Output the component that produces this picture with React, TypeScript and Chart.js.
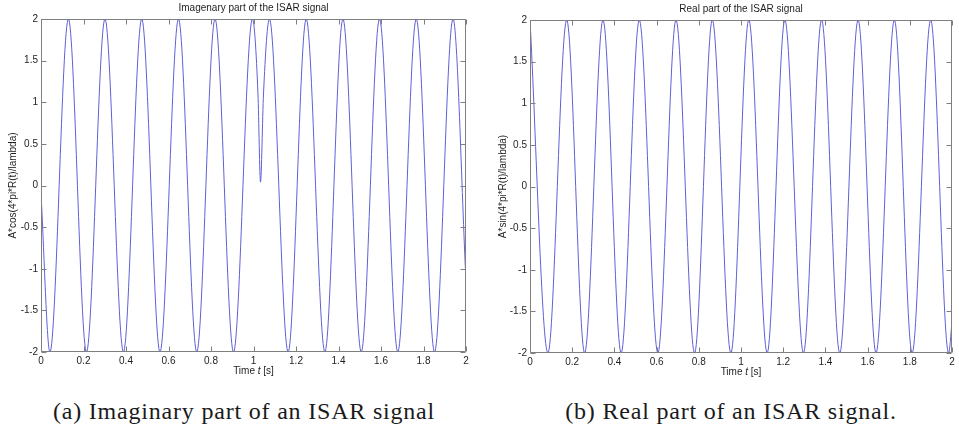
import React, { useEffect, useRef } from "react";
import { Chart, registerables } from "chart.js";

Chart.register(...registerables);

// Imaginary part: times (s) of the turning points of the trace and the value there
const imagTimes = [
  0, 0.042, 0.129, 0.214, 0.301, 0.388, 0.474, 0.56, 0.647, 0.733, 0.819, 0.906, 0.995,
  1.021, 1.033, 1.047, 1.075, 1.163, 1.248, 1.336, 1.421, 1.507, 1.593, 1.679, 1.766,
  1.852, 1.939, 2.0,
];
const imagValues = [
  -0.1, -2, 2, -2, 2, -2, 2, -2, 2, -2, 2, -2, 2,
  1.1, 0.04, 1.1, 2, -2, 2, -2, 2, -2, 2, -2, 2,
  -2, 2, -1.15,
];

// Real part: times (s) of the turning points of the trace and the value there
const realTimes = [
  0, 0.085, 0.174, 0.259, 0.346, 0.432, 0.518, 0.606, 0.692, 0.78, 0.864, 0.952, 1.037,
  1.124, 1.208, 1.296, 1.382, 1.468, 1.555, 1.64, 1.727, 1.811, 1.899, 1.984, 2.0,
];
const realValues = [
  2, -2, 2, -2, 2, -2, 2, -2, 2, -2, 2, -2, 2,
  -2, 2, -2, 2, -2, 2, -2, 2, -2, 2, -2, -1.63,
];

const timeRange = [0, 2];
const timeStep = 0.2;
const ampRange = [-2, 2];
const ampStep = 0.5;

const LINE = "rgb(95,95,215)";
const FRAME = "#7f7f7f";
const TEXT = "#1e1e1e";
const SANS = "'Liberation Sans', Arial, Helvetica, sans-serif";

// plain tick text: 1 instead of 1.0, 0.2 instead of 0.20
const plainTick = (v: number | string) => String(Math.round(Number(v) * 10) / 10);

type Layout = {
  w: number;
  h: number;
  axisW: number;
  axisH: number;
  top: number;
  right: number;
  ylabelPad: number;
};

const framePlugin = {
  id: "matlabFrame",
  afterDatasetsDraw(chart: any) {
    const { ctx, chartArea: a, scales } = chart;
    const L = Math.round(a.left) + 0.5;
    const R = Math.round(a.right) - 0.5;
    const T = Math.round(a.top) + 0.5;
    const B = Math.round(a.bottom) - 0.5;
    ctx.save();
    ctx.strokeStyle = FRAME;
    ctx.lineWidth = 1;
    ctx.beginPath();
    ctx.rect(L, T, R - L, B - T);
    const len = 5;
    for (const t of scales.x.ticks) {
      const x = Math.round(scales.x.getPixelForValue(t.value)) + 0.5;
      ctx.moveTo(x, B);
      ctx.lineTo(x, B - len);
      ctx.moveTo(x, T);
      ctx.lineTo(x, T + len);
    }
    for (const t of scales.y.ticks) {
      const y = Math.round(scales.y.getPixelForValue(t.value)) + 0.5;
      ctx.moveTo(L, y);
      ctx.lineTo(L + len, y);
      ctx.moveTo(R, y);
      ctx.lineTo(R - len, y);
    }
    ctx.stroke();
    ctx.restore();
  },
  afterDraw(chart: any, _args: any, opts: any) {
    const { ctx, chartArea: a } = chart;
    const cx = (a.left + a.right) / 2;
    ctx.save();
    ctx.fillStyle = TEXT;
    ctx.textBaseline = "middle";
    // plot title
    ctx.font = `10px ${SANS}`;
    ctx.textAlign = "center";
    ctx.fillText(opts.title, cx, a.top - 10.5);
    // x label with italic t
    const parts: [string, string][] = [
      ["Time ", `10px ${SANS}`],
      ["t", `italic 10px ${SANS}`],
      [" [s]", `10px ${SANS}`],
    ];
    let total = 0;
    for (const [s, f] of parts) {
      ctx.font = f;
      total += ctx.measureText(s).width;
    }
    let x = cx - total / 2;
    ctx.textAlign = "left";
    const y = a.bottom + 19;
    for (const [s, f] of parts) {
      ctx.font = f;
      ctx.fillText(s, x, y);
      x += ctx.measureText(s).width;
    }
    ctx.restore();
  },
};

function SignalPlot(props: {
  title: string;
  ylabel: string;
  times: number[];
  values: number[];
  layout: Layout;
  left: number;
}) {
  const ref = useRef<HTMLCanvasElement | null>(null);
  const { title, ylabel, times, values, layout, left } = props;

  useEffect(() => {
    if (!ref.current) return;
    const tickFont = { family: SANS, size: 10 };
    const chart = new Chart(ref.current, {
      type: "line",
      data: {
        datasets: [
          {
            data: times.map((t, i) => ({ x: t, y: values[i] })),
            borderColor: LINE,
            borderWidth: 1,
            pointRadius: 0,
            fill: false,
            cubicInterpolationMode: "monotone",
          },
        ],
      },
      options: {
        animation: false,
        responsive: false,
        devicePixelRatio: 1,
        events: [],
        layout: { padding: { left: 0, right: layout.right, top: layout.top, bottom: 0 } },
        plugins: {
          legend: { display: false },
          tooltip: { enabled: false },
          title: { display: false },
          matlabFrame: { title },
        } as any,
        scales: {
          x: {
            type: "linear",
            min: timeRange[0],
            max: timeRange[1],
            ticks: {
              stepSize: timeStep,
              padding: 3,
              font: tickFont,
              color: TEXT,
              maxRotation: 0,
              autoSkip: false,
              callback: plainTick,
            },
            grid: { display: false, drawTicks: false },
            border: { display: false },
            afterFit: (s: any) => {
              s.height = layout.axisH;
            },
          },
          y: {
            type: "linear",
            min: ampRange[0],
            max: ampRange[1],
            ticks: { stepSize: ampStep, padding: 3, font: tickFont, color: TEXT, callback: plainTick },
            grid: { display: false, drawTicks: false },
            border: { display: false },
            title: {
              display: true,
              text: ylabel,
              color: TEXT,
              font: { family: SANS, size: 10 },
              padding: { top: layout.ylabelPad, bottom: 0 },
            },
            afterFit: (s: any) => {
              s.width = layout.axisW;
            },
          },
        },
      } as any,
      plugins: [framePlugin],
    });
    return () => chart.destroy();
  }, [title, ylabel, times, values, layout]);

  return (
    <canvas
      ref={ref}
      width={layout.w}
      height={layout.h}
      style={{ position: "absolute", left, top: 0, width: layout.w, height: layout.h }}
    />
  );
}

const leftLayout: Layout = { w: 479, h: 385, axisW: 41, axisH: 33, top: 19, right: 13, ylabelPad: 7 };
const rightLayout: Layout = { w: 480, h: 385, axisW: 51, axisH: 32, top: 20, right: 7, ylabelPad: 18 };

const captionStyle: React.CSSProperties = {
  position: "absolute",
  top: 397,
  width: 440,
  textAlign: "center",
  fontFamily: "'Liberation Serif', 'Times New Roman', serif",
  fontSize: 24,
  letterSpacing: 0.8,
  lineHeight: "28px",
  color: "#1a1a1a",
  whiteSpace: "nowrap",
};

export default function App() {
  return (
    <div
      style={{
        position: "absolute",
        left: 0,
        top: 0,
        width: 959,
        height: 430,
        background: "#ffffff",
        overflow: "hidden",
      }}
    >
      <SignalPlot
        title="Imagenary part of the ISAR signal"
        ylabel="A*cos(4*pi*R(t)/lambda)"
        times={imagTimes}
        values={imagValues}
        layout={leftLayout}
        left={0}
      />
      <SignalPlot
        title="Real part of the ISAR signal"
        ylabel="A*sin(4*pi*R(t)/lambda)"
        times={realTimes}
        values={realValues}
        layout={rightLayout}
        left={479}
      />
      <div style={{ ...captionStyle, left: 244 - 220 }}>(a) Imaginary part of an ISAR signal</div>
      <div style={{ ...captionStyle, left: 731 - 220 }}>(b) Real part of an ISAR signal.</div>
    </div>
  );
}
